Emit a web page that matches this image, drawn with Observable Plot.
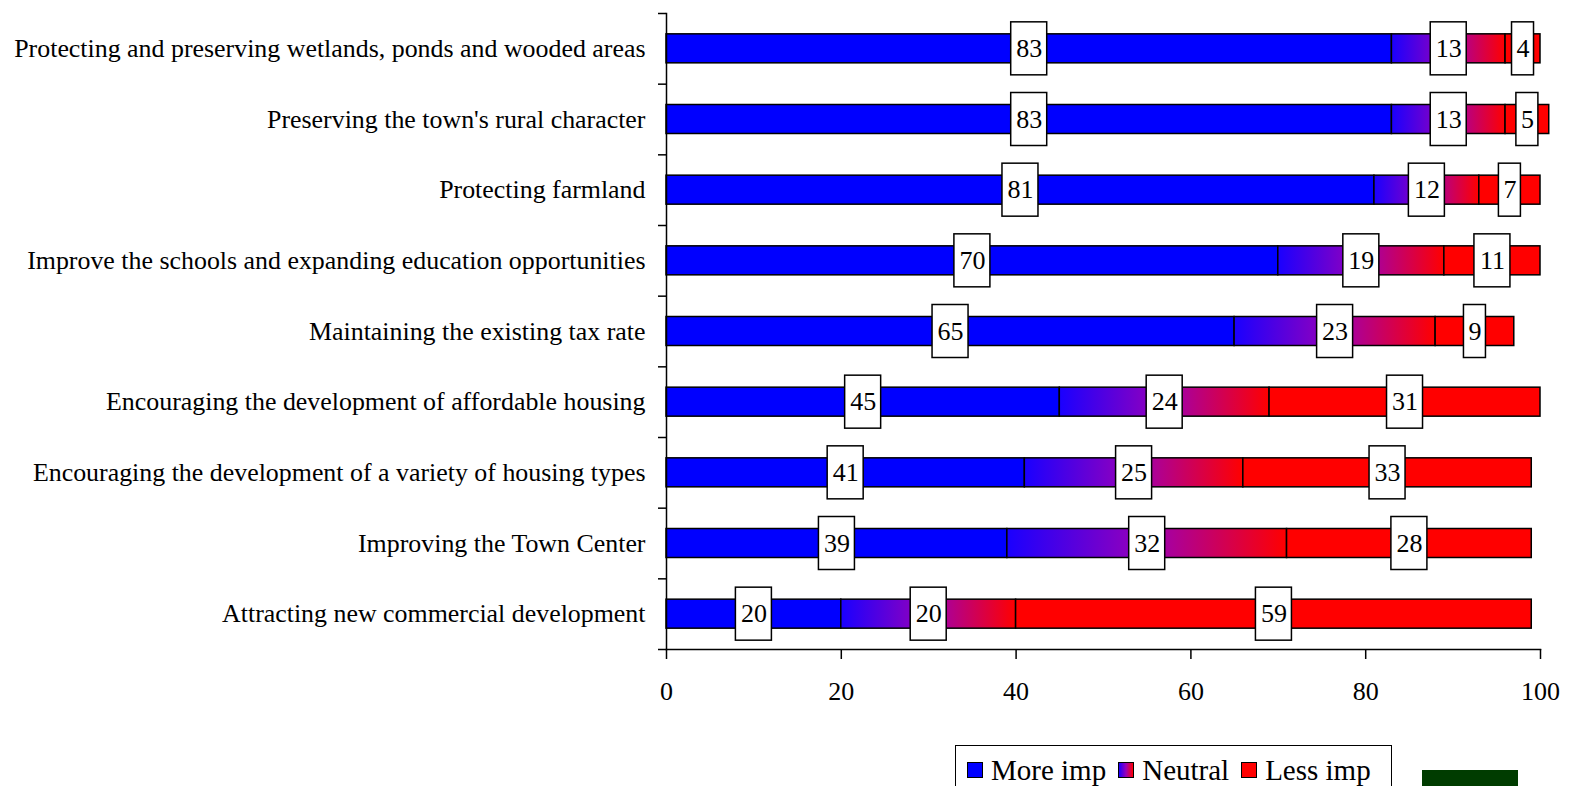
<!DOCTYPE html>
<html>
<head>
<meta charset="utf-8">
<script src="https://cdn.jsdelivr.net/npm/d3@7"></script>
<script src="https://cdn.jsdelivr.net/npm/@observablehq/plot@0.6"></script>
<style>
  html, body { margin: 0; padding: 0; background: #fff; overflow: hidden; width: 1573px; height: 786px; }
  #wrap { position: relative; width: 1573px; height: 786px; font-family: "Liberation Serif", "Times New Roman", serif; }
  #legend { position: absolute; left: 955px; top: 745px; width: 437px; height: 52px; border: 1.5px solid #000; box-sizing: border-box; display: flex; flex-wrap: nowrap; align-items: center; padding-left: 11px; padding-bottom: 2px; font-size: 29px; color: #000; white-space: nowrap; overflow: hidden; }
  .item { display: flex; align-items: center; margin-right: 12px; flex-shrink: 0; white-space: nowrap; }
  .sw { width: 16px; height: 16px; border: 1.5px solid #000; box-sizing: border-box; margin-right: 8px; flex-shrink: 0; }
  #green { position: absolute; left: 1422px; top: 770px; width: 96px; height: 20px; background: #003c00; }
</style>
</head>
<body>
<div id="wrap">
  <div id="chart"></div>
  <div id="legend"></div>
  <div id="green"></div>
</div>
<script>
const categories = [
  "Protecting and preserving wetlands, ponds and wooded areas",
  "Preserving the town's rural character",
  "Protecting farmland",
  "Improve the schools and expanding education opportunities",
  "Maintaining the existing tax rate",
  "Encouraging the development of affordable housing",
  "Encouraging the development of a variety of housing types",
  "Improving the Town Center",
  "Attracting new commercial development"
];
const moreImp = [83, 83, 81, 70, 65, 45, 41, 39, 20];
const neutral = [13, 13, 12, 19, 23, 24, 25, 32, 20];
const lessImp = [4, 5, 7, 11, 9, 31, 33, 28, 59];
const seriesNames = ["More imp", "Neutral", "Less imp"];
const xTicks = [0, 20, 40, 60, 80, 100];

const seriesValues = [moreImp, neutral, lessImp];
const segments = [];
categories.forEach((cat, i) => {
  let start = 0;
  seriesValues.forEach((vals, s) => {
    const v = vals[i];
    segments.push({category: cat, series: seriesNames[s], value: v, x1: start, x2: start + v, mid: start + v / 2});
    start += v;
  });
});

const W = 1573, H = 720, mT = 13, mB = 71, mL = 666, mR = 33;
const step = (H - mT - mB) / categories.length;
const barH = 29, boxH = 53;
const barInset = (step - barH) / 2, boxInset = (step - boxH) / 2;
const fills = {"More imp": "#0000ff", "Neutral": "url(#neutralGrad)", "Less imp": "#ff0000"};

const defs = () => {
  const d = d3.create("svg:defs");
  const g = d.append("linearGradient").attr("id", "neutralGrad").attr("x1", "0").attr("x2", "1").attr("y1", "0").attr("y2", "0");
  g.append("stop").attr("offset", "0").attr("stop-color", "#1a00ff");
  g.append("stop").attr("offset", "0.5").attr("stop-color", "#9a00b8");
  g.append("stop").attr("offset", "1").attr("stop-color", "#ff0000");
  return d.node();
};

const oneDigit = segments.filter(d => String(d.value).length === 1);
const twoDigit = segments.filter(d => String(d.value).length > 1);

const chart = Plot.plot({
  width: W, height: H,
  marginTop: mT, marginBottom: mB, marginLeft: mL, marginRight: mR,
  style: {fontFamily: "Liberation Serif, Times New Roman, serif", fontSize: "26px", color: "#000", background: "#fff"},
  x: {domain: [0, 100]},
  y: {domain: categories, padding: 0, round: false},
  marks: [
    defs,
    ...seriesNames.map(s => Plot.barX(segments.filter(d => d.series === s), {
      x1: "x1", x2: "x2", y: "category",
      fill: fills[s], stroke: "#000", strokeWidth: 1.5,
      insetTop: barInset, insetBottom: barInset
    })),
    Plot.barX(twoDigit, {x1: "mid", x2: "mid", y: "category", fill: "#fff", stroke: "#000", strokeWidth: 1.5,
      insetLeft: -18, insetRight: -18, insetTop: boxInset, insetBottom: boxInset}),
    Plot.barX(oneDigit, {x1: "mid", x2: "mid", y: "category", fill: "#fff", stroke: "#000", strokeWidth: 1.5,
      insetLeft: -11, insetRight: -11, insetTop: boxInset, insetBottom: boxInset}),
    Plot.text(segments, {x: "mid", y: "category", text: d => String(d.value), fontSize: 26, fill: "#000"}),
    Plot.frame({anchor: "left", stroke: "#000", strokeWidth: 1.5}),
    Plot.frame({anchor: "bottom", stroke: "#000", strokeWidth: 1.5}),
    Plot.ruleY(categories, {y: d => d, x1: 0, x2: 0, insetLeft: -8, dy: -step / 2, stroke: "#000", strokeWidth: 1.5}),
    Plot.ruleY(categories.slice(-1), {y: d => d, x1: 0, x2: 0, insetLeft: -8, dy: step / 2, stroke: "#000", strokeWidth: 1.5}),
    Plot.axisY({tickSize: 0, tickPadding: 21, fontSize: 25.9, label: null}),
    Plot.axisX({ticks: xTicks, tickSize: 10, tickPadding: 22, fontSize: 26, label: null, strokeWidth: 1.5})
  ]
});
document.getElementById("chart").appendChild(chart);

const legend = document.getElementById("legend");
seriesNames.forEach(s => {
  const item = document.createElement("div");
  item.className = "item";
  const sw = document.createElement("div");
  sw.className = "sw";
  sw.style.background = s === "Neutral" ? "linear-gradient(to right, #1a00ff, #9a00b8, #ff0000)" : fills[s];
  const t = document.createElement("span");
  t.textContent = s;
  item.appendChild(sw);
  item.appendChild(t);
  legend.appendChild(item);
});
</script>
</body>
</html>
